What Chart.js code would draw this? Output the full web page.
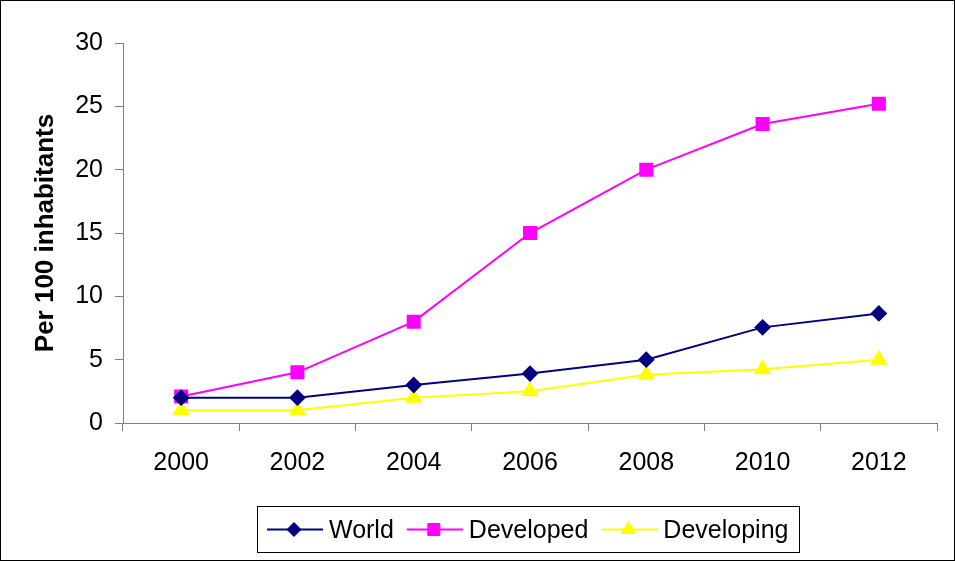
<!DOCTYPE html>
<html>
<head>
<meta charset="utf-8">
<script src="https://cdn.jsdelivr.net/npm/chart.js@4/dist/chart.umd.min.js"></script>
<style>
  html, body { margin: 0; padding: 0; background: #fff; }
  #wrap { position: relative; width: 955px; height: 561px; }
  #frame { position: absolute; left: 0; top: 0; width: 953px; height: 559px;
           border: 1px solid #000; pointer-events: none; }
  canvas { position: absolute; left: 0; top: 0; }
</style>
</head>
<body>
<div id="wrap">
  <canvas id="c" width="955" height="561"></canvas>
  <div id="frame"></div>
</div>
<script>
// Years on the category axis
const years = ['2000', '2002', '2004', '2006', '2008', '2010', '2012'];

// Subscribers per 100 inhabitants
const world      = [2.0, 2.0, 3.0, 3.9, 5.0, 7.55, 8.65];
const developed  = [2.1, 4.0, 8.0, 15.0, 20.0, 23.6, 25.2];
const developing = [1.0, 1.0, 2.0, 2.5, 3.8, 4.25, 5.0];

// Value axis
const yMin = 0, yMax = 30, yStep = 5;

const FONT = "'Liberation Sans', Arial, sans-serif";

// Legend drawn as a boxed row: short line with marker, then the label
const boxedLegend = {
  id: 'boxedLegend',
  afterDraw(chart) {
    const ctx = chart.ctx;
    const box = { x: 257.5, y: 506.5, w: 542, h: 46 };
    ctx.save();
    ctx.strokeStyle = '#000';
    ctx.lineWidth = 1;
    ctx.strokeRect(box.x, box.y, box.w, box.h);
    ctx.font = '25px ' + FONT;
    ctx.textBaseline = 'middle';
    ctx.fillStyle = '#000';
    const cy = box.y + box.h / 2;
    let x = 267;
    chart.data.datasets.forEach(ds => {
      ctx.strokeStyle = ds.borderColor;
      ctx.lineWidth = 2;
      ctx.beginPath();
      ctx.moveTo(x, cy);
      ctx.lineTo(x + 56, cy);
      ctx.stroke();
      ctx.fillStyle = ds.pointBackgroundColor;
      ctx.strokeStyle = ds.pointBorderColor;
      ctx.lineWidth = 1;
      Chart.helpers.drawPoint(ctx, {
        pointStyle: ds.pointStyle, radius: ds.pointRadius, borderWidth: 1, rotation: 0
      }, x + 27, cy);
      ctx.fillStyle = '#000';
      ctx.fillText(ds.label, x + 62, cy + 2);
      x += 62 + ctx.measureText(ds.label).width + 13;
    });
    ctx.restore();
  }
};

function series(label, data, color, style, radius) {
  return {
    label, data,
    borderColor: color,
    backgroundColor: color,
    pointBackgroundColor: color,
    pointBorderColor: color,
    pointStyle: style,
    pointRadius: radius,
    pointHoverRadius: radius,
    borderWidth: 2,
    tension: 0
  };
}

new Chart(document.getElementById('c'), {
  type: 'line',
  data: {
    labels: years,
    datasets: [
      series('World', world, '#000080', 'rectRot', 7),
      series('Developed', developed, '#FF00FF', 'rect', 8.5),
      series('Developing', developing, '#FFFF00', 'triangle', 8)
    ]
  },
  options: {
    responsive: false,
    animation: false,
    events: [],
    layout: { padding: { left: 0, top: 43, right: 18, bottom: 0 } },
    plugins: { legend: { display: false }, tooltip: { enabled: false } },
    scales: {
      x: {
        offset: true,
        grid: { offset: true, drawOnChartArea: false, drawTicks: true, tickLength: 8, color: '#808080' },
        border: { color: '#808080', width: 1 },
        ticks: { color: '#000', font: { family: FONT, size: 25 }, padding: 17, maxRotation: 0 },
        afterFit(s) { s.height = 138; }
      },
      y: {
        min: yMin, max: yMax,
        grid: { drawOnChartArea: false, drawTicks: true, tickLength: 8, color: '#808080' },
        border: { color: '#808080', width: 1 },
        ticks: { stepSize: yStep, color: '#000', font: { family: FONT, size: 25 }, padding: 12 },
        title: {
          display: true, text: 'Per 100 inhabitants', color: '#000',
          font: { family: FONT, size: 26, weight: 'bold' },
          padding: { top: 30, bottom: 0 }
        },
        afterFit(s) { s.width = 123; }
      }
    }
  },
  plugins: [boxedLegend]
});
</script>
</body>
</html>
